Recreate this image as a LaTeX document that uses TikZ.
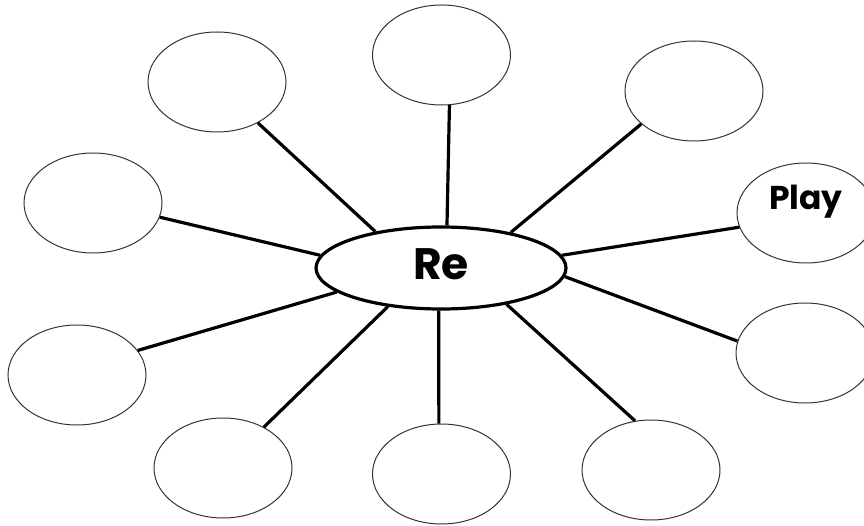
\documentclass[tikz,border=0pt]{standalone}
\usepackage{fontspec}
\setmainfont{Poppins}
\usetikzlibrary{shapes.geometric}
\begin{document}
\begin{tikzpicture}[x=1pt,y=-1pt,
  bubble/.style={draw=black!80,line width=1pt,ellipse,minimum width=138pt,minimum height=100pt,inner sep=0pt},
  hub/.style={draw=black,line width=3.2pt,ellipse,minimum width=250pt,minimum height=82pt,inner sep=0pt},
  spoke/.style={draw=black,line width=3.2pt},
  word/.style={font=\bfseries}]
\useasboundingbox (0,0) rectangle (864,526);
\node[hub] (c) at (441,268) {};
\node[word,font=\bfseries\fontsize{44}{44}\selectfont] (re) at (441,264) {Re};
\node[bubble] (tl) at (217,82) {};
\node[bubble] (tc) at (441.5,55) {};
\node[bubble] (tr) at (694,91) {};
\node[bubble] (pl) at (806,213) {};
\node[word,font=\bfseries\fontsize{33}{33}\selectfont] (play) at (806,202) {Play};
\node[bubble] (rl) at (805,353) {};
\node[bubble] (br) at (651,470) {};
\node[bubble] (bc) at (441.5,474) {};
\node[bubble] (bl) at (223,468) {};
\node[bubble] (ll) at (77,375) {};
\node[bubble] (lu) at (93,203) {};
\draw[spoke] (tl.-45.7) -- (c.151.6);
\draw[spoke] (tc.-81.8) -- (c.82);
\draw[spoke] (tr.212.7) -- (c.27.8);
\draw[spoke] (pl.192) -- (c.6.1);
\draw[spoke] (rl.170.4) -- (c.-4.6);
\draw[spoke] (br.108.8) -- (c.-29.1);
\draw[spoke] (bc.93.8) -- (c.-93.8);
\draw[spoke] (bl.45) -- (c.216);
\draw[spoke] (ll.22.4) -- (c.193);
\draw[spoke] (lu.-12) -- (c.174.8);
\end{tikzpicture}
\end{document}
